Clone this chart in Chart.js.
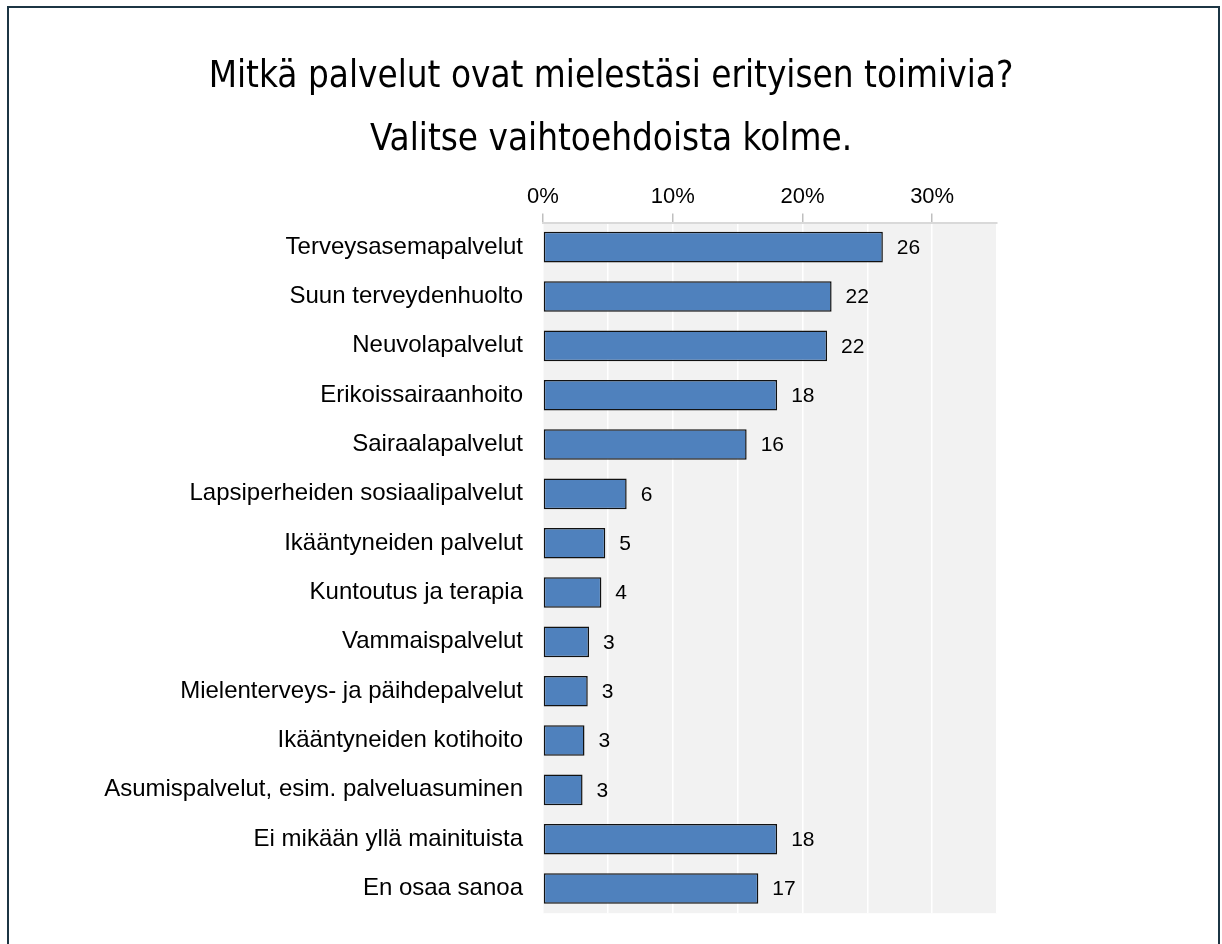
<!DOCTYPE html>
<html>
<head>
<meta charset="utf-8">
<script src="https://cdn.jsdelivr.net/npm/chart.js@4/dist/chart.umd.min.js"></script>
<style>
  html, body { margin: 0; padding: 0; background: #ffffff; }
  #wrap { position: relative; width: 1222px; height: 944px; overflow: hidden; }
  #frame { position: absolute; left: 7px; top: 6px; width: 1213px; height: 960px;
           border: 2px solid #1c3544; box-sizing: border-box; pointer-events: none; }
  canvas { position: absolute; left: 0; top: 0; }
</style>
</head>
<body>
<div id="wrap">
  <canvas id="c" width="1222" height="944"></canvas>
  <div id="frame"></div>
</div>
<script>
const titleLines = ["Mitkä palvelut ovat mielestäsi erityisen toimivia?", "Valitse vaihtoehdoista kolme."];
const categories = [
  "Terveysasemapalvelut",
  "Suun terveydenhuolto",
  "Neuvolapalvelut",
  "Erikoissairaanhoito",
  "Sairaalapalvelut",
  "Lapsiperheiden sosiaalipalvelut",
  "Ikääntyneiden palvelut",
  "Kuntoutus ja terapia",
  "Vammaispalvelut",
  "Mielenterveys- ja päihdepalvelut",
  "Ikääntyneiden kotihoito",
  "Asumispalvelut, esim. palveluasuminen",
  "Ei mikään yllä mainituista",
  "En osaa sanoa"
];
const values = [26.2, 22.25, 21.9, 18.05, 15.7, 6.45, 4.8, 4.5, 3.55, 3.45, 3.2, 3.05, 18.05, 16.6];
const valueLabels = ["26", "22", "22", "18", "16", "6", "5", "4", "3", "3", "3", "3", "18", "17"];
const tickValues = [0, 10, 20, 30];
const axisMax = 35;
const gridStep = 5;

const plotBg = {
  id: 'plotBg',
  beforeDraw(chart) {
    const a = chart.chartArea, ctx = chart.ctx;
    ctx.save();
    ctx.fillStyle = '#f2f2f2';
    ctx.fillRect(a.left, a.top, a.right - a.left, a.bottom - a.top);
    ctx.restore();
  }
};

const barLabels = {
  id: 'barLabels',
  afterDatasetsDraw(chart) {
    const ctx = chart.ctx;
    const meta = chart.getDatasetMeta(0);
    ctx.save();
    ctx.font = '21px "Liberation Sans", Arial, sans-serif';
    ctx.fillStyle = '#000000';
    ctx.textAlign = 'left';
    ctx.textBaseline = 'middle';
    meta.data.forEach((bar, i) => {
      ctx.fillText(valueLabels[i], bar.x + 14, bar.y + 1);
    });
    ctx.restore();
  }
};

new Chart(document.getElementById('c'), {
  type: 'bar',
  data: {
    labels: categories,
    datasets: [{
      data: values,
      backgroundColor: '#4f81bd',
      borderColor: '#111111',
      borderWidth: 1.5,
      borderSkipped: false,
      categoryPercentage: 1,
      barPercentage: 0.62
    }]
  },
  options: {
    indexAxis: 'y',
    responsive: false,
    animation: false,
    layout: { padding: { left: 0, right: 0, top: 0, bottom: 0 } },
    plugins: {
      legend: { display: false },
      tooltip: { enabled: false },
      title: {
        display: true,
        text: titleLines,
        color: '#000000',
        font: { family: '"DejaVu Sans Condensed", "Liberation Sans", sans-serif', size: 36.5, weight: 'normal', lineHeight: 63 / 36.5 },
        padding: { top: 46.5, bottom: 0 }
      }
    },
    scales: {
      x: {
        position: 'top',
        min: 0,
        max: axisMax,
        afterFit(scale) { scale.height = 50; },
        afterBuildTicks(scale) {
          const t = [];
          for (let v = 0; v <= axisMax; v += gridStep) t.push({ value: v });
          scale.ticks = t;
        },
        ticks: {
          autoSkip: false,
          maxRotation: 0,
          padding: 3,
          color: '#000000',
          font: { family: '"Liberation Sans", Arial, sans-serif', size: 22 },
          callback: (v) => tickValues.includes(v) ? v + '%' : ''
        },
        grid: {
          color: '#ffffff',
          lineWidth: 1.5,
          tickLength: 9,
          tickColor: (ctx) => (ctx.tick && tickValues.includes(ctx.tick.value)) ? '#bfbfbf' : 'rgba(0,0,0,0)',
          tickWidth: 1.5
        },
        border: { display: true, color: '#d9d9d9', width: 2 }
      },
      y: {
        afterFit(scale) { scale.width = 543; },
        ticks: {
          padding: 20,
          color: '#000000',
          font: { family: '"Liberation Sans", Arial, sans-serif', size: 24, lineHeight: 0.9 }
        },
        grid: { display: false, drawTicks: false },
        border: { display: false }
      },
      yRight: {
        position: 'right',
        display: true,
        afterFit(scale) { scale.width = 225; },
        ticks: { display: false },
        grid: { display: false, drawTicks: false },
        border: { display: false }
      }
    }
  },
  plugins: [plotBg, barLabels]
});
</script>
</body>
</html>
